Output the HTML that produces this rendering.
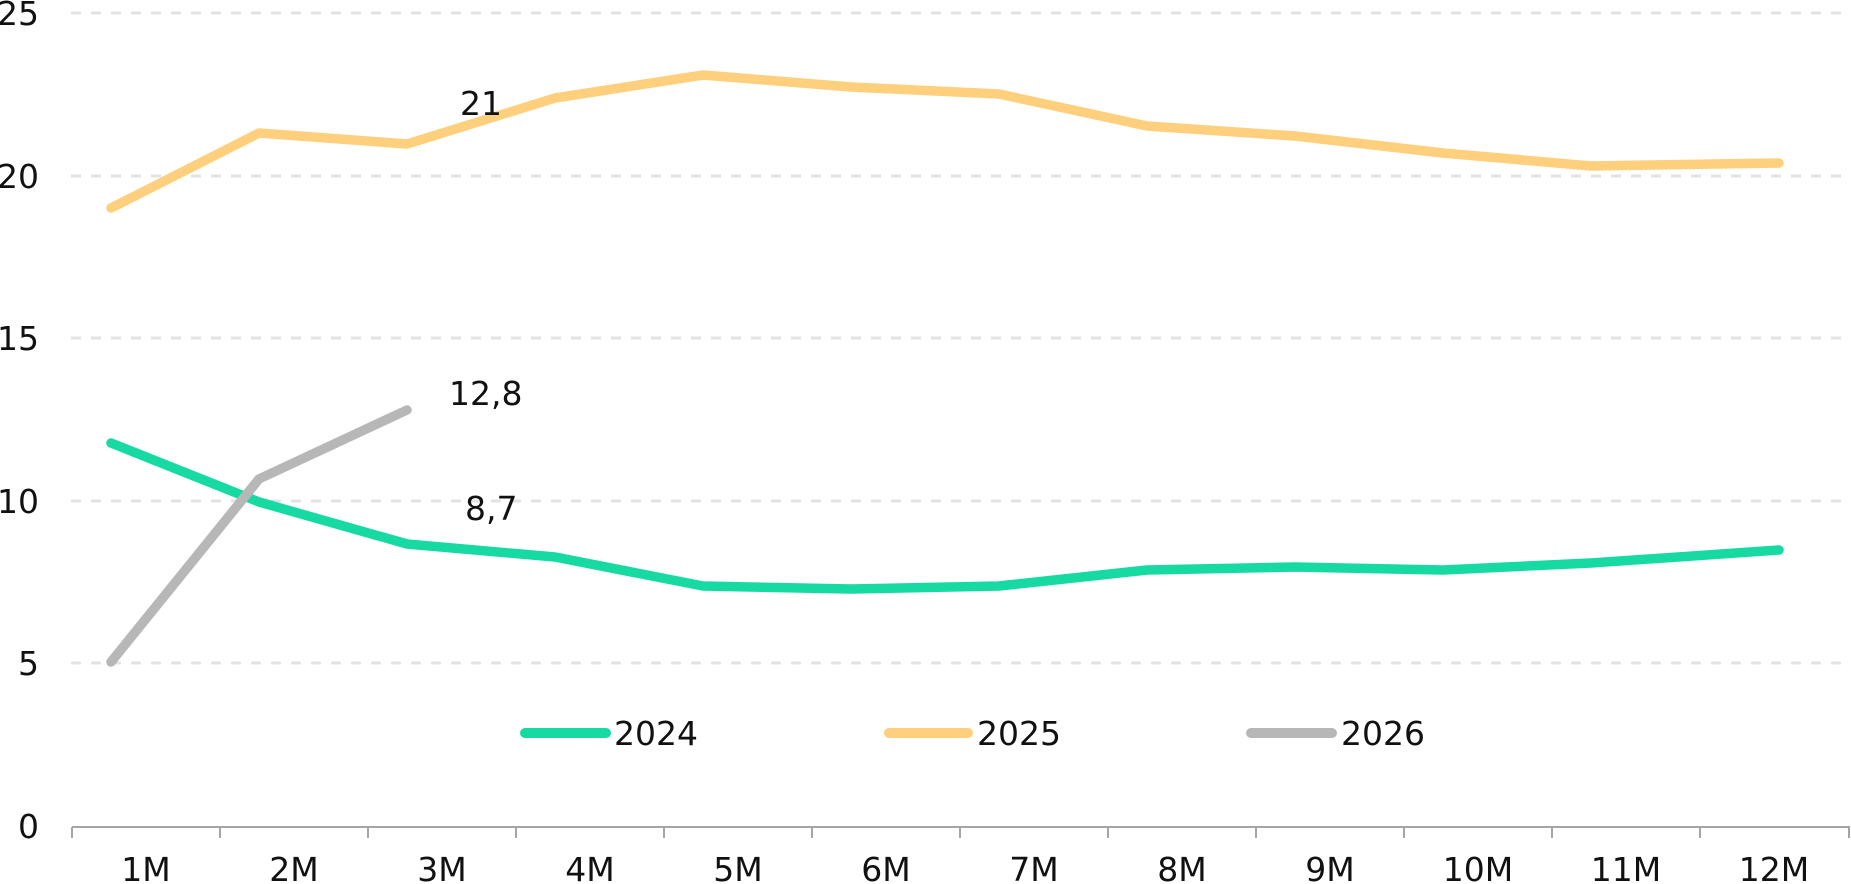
<!DOCTYPE html>
<html><head><meta charset="utf-8"><style>
html,body{margin:0;padding:0;background:#fff;}
svg{display:block;font-family:"DejaVu Sans","Liberation Sans",sans-serif;}
</style></head><body>
<svg width="1851" height="884" viewBox="0 0 1851 884" xmlns="http://www.w3.org/2000/svg">
<g stroke="#e3e3e3" stroke-width="3" stroke-dasharray="10,10">
<line x1="71" y1="13" x2="1849" y2="13"/>
<line x1="71" y1="176" x2="1849" y2="176"/>
<line x1="71" y1="338" x2="1849" y2="338"/>
<line x1="71" y1="501" x2="1849" y2="501"/>
<line x1="71" y1="663" x2="1849" y2="663"/>
</g>
<g stroke="#a6a6a6" stroke-width="2">
<line x1="72" y1="827" x2="1850" y2="827"/>
<line x1="72" y1="827" x2="72" y2="838"/><line x1="220" y1="827" x2="220" y2="838"/>
<line x1="368" y1="827" x2="368" y2="838"/><line x1="516" y1="827" x2="516" y2="838"/>
<line x1="664" y1="827" x2="664" y2="838"/><line x1="812" y1="827" x2="812" y2="838"/>
<line x1="960" y1="827" x2="960" y2="838"/><line x1="1108" y1="827" x2="1108" y2="838"/>
<line x1="1256" y1="827" x2="1256" y2="838"/><line x1="1404" y1="827" x2="1404" y2="838"/>
<line x1="1552" y1="827" x2="1552" y2="838"/><line x1="1700" y1="827" x2="1700" y2="838"/>
<line x1="1849" y1="827" x2="1849" y2="838"/>
</g>
<g font-size="33" fill="#111" text-anchor="end">
<text x="39" y="25">25</text><text x="39" y="188">20</text><text x="39" y="350">15</text>
<text x="39" y="513">10</text><text x="39" y="675">5</text><text x="39" y="838">0</text>
</g>
<g font-size="33" fill="#111" text-anchor="middle">
<text x="146" y="881">1M</text><text x="294" y="881">2M</text><text x="442" y="881">3M</text>
<text x="590" y="881">4M</text><text x="738" y="881">5M</text><text x="886" y="881">6M</text>
<text x="1034" y="881">7M</text><text x="1182" y="881">8M</text><text x="1330" y="881">9M</text>
<text x="1478" y="881">10M</text><text x="1626" y="881">11M</text><text x="1774" y="881">12M</text>
</g>
<g fill="none" stroke-width="9.5" stroke-linecap="round" stroke-linejoin="round">
<polyline stroke="#fecf7d" points="111,208 259,133 407,144 555,98 703,75 851,87 999,94 1147,126 1295,136 1443,153 1591,166 1779,163"/>
<polyline stroke="#17d9a2" points="111,443 259,502 407,544 555,557 703,586 851,589 999,586 1147,570 1295,567 1443,570 1591,563 1779,550"/>
<polyline stroke="#b7b7b7" points="111,662 259,479 407,410"/>
</g>
<g font-size="33" fill="#111">
<text x="481" y="115" text-anchor="middle">21</text>
<text x="449" y="405">12,8</text>
<text x="465" y="520">8,7</text>
</g>
<g stroke-width="10" stroke-linecap="round">
<line x1="525" y1="733" x2="606" y2="733" stroke="#17d9a2"/>
<line x1="889" y1="733" x2="968" y2="733" stroke="#fecf7d"/>
<line x1="1251" y1="733" x2="1332" y2="733" stroke="#b7b7b7"/>
</g>
<g font-size="33" fill="#111">
<text x="614" y="745">2024</text><text x="977" y="745">2025</text><text x="1341" y="745">2026</text>
</g>
</svg>
</body></html>
